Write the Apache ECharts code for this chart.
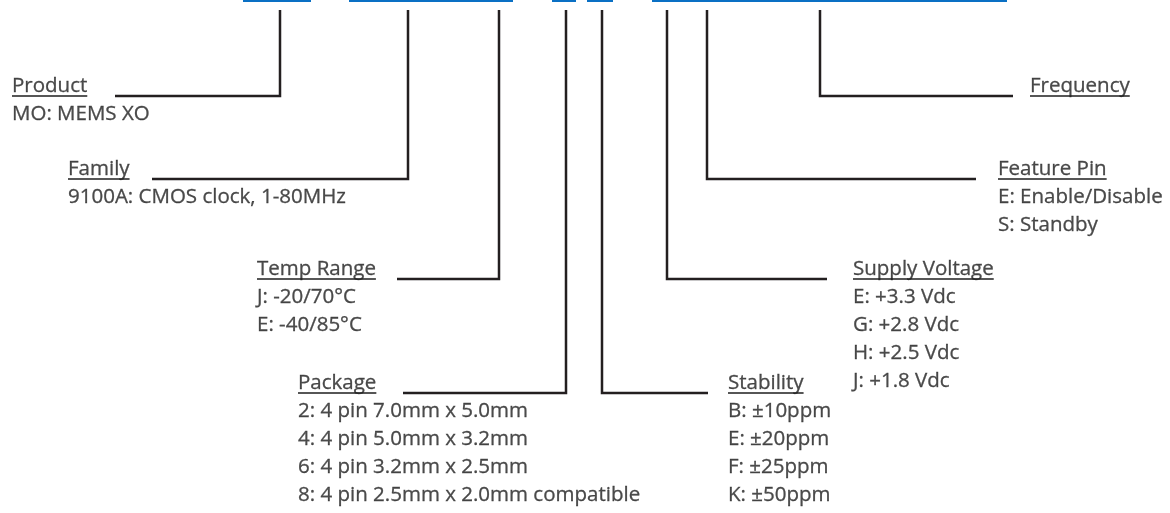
<!DOCTYPE html>
<html>
<head>
<meta charset="utf-8">
<script src="https://cdn.jsdelivr.net/npm/echarts@6/dist/echarts.min.js"></script>
<style>
html,body{margin:0;padding:0;background:#fff;}
#chart{width:1170px;height:513px;}
</style>
</head>
<body>
<div id="chart"></div>
<script>
// ---- content ----
const fieldNames = ['Product', 'Family', 'Temp Range', 'Package', 'Stability', 'Supply Voltage', 'Feature Pin', 'Frequency'];
const productOptions = ['MO: MEMS XO'];
const familyOptions = ['9100A: CMOS clock, 1-80MHz'];
const tempOptions = ['J: -20/70°C', 'E: -40/85°C'];
const packageOptions = ['2: 4 pin 7.0mm x 5.0mm', '4: 4 pin 5.0mm x 3.2mm', '6: 4 pin 3.2mm x 2.5mm', '8: 4 pin 2.5mm x 2.0mm compatible'];
const stabilityOptions = ['B: ±10ppm', 'E: ±20ppm', 'F: ±25ppm', 'K: ±50ppm'];
const supplyOptions = ['E: +3.3 Vdc', 'G: +2.8 Vdc', 'H: +2.5 Vdc', 'J: +1.8 Vdc'];
const featureOptions = ['E: Enable/Disable', 'S: Standby'];
const frequencyOptions = [];
const fieldOptions = [productOptions, familyOptions, tempOptions, packageOptions, stabilityOptions, supplyOptions, featureOptions, frequencyOptions];

// ---- layout (pixel space of the hidden axes) ----
const codeBarStart = [243, 349, 552, 587, 652];
const codeBarEnd = [311, 513, 576, 613, 1007];
const textX = [12, 68, 257, 298, 728, 853, 998, 1030];
const baseY = [93, 176, 276, 390, 390, 276, 176, 93];
const leaderX = [280, 408, 499, 566, 602, 667, 707, 820];
const leaderEndX = [115, 152, 397, 403, 708, 827, 976, 1013];
const leaderTop = 10;
const lineOffset = 3;
const rowStep = 28;

const FONT_FAMILY = 'Open Sans';
const FONT_SIZE = 20.5;
const TEXT_COLOR = '#1e1e1e';
const LINE_COLOR = '#231f20';
const BLUE = '#0a70c4';

const ctx = document.createElement('canvas').getContext('2d');
ctx.font = FONT_SIZE + 'px "' + FONT_FAMILY + '"';

const series = [];
// blue code bars
codeBarStart.forEach((s, i) => {
  series.push({
    type: 'line', silent: true, symbol: 'none', clip: false,
    lineStyle: { color: BLUE, width: 4 },
    data: [[s, 0], [codeBarEnd[i], 0]]
  });
});
// leader lines
fieldNames.forEach((n, i) => {
  const ly = baseY[i] + lineOffset;
  series.push({
    type: 'line', silent: true, symbol: 'none',
    lineStyle: { color: LINE_COLOR, width: 2.5, join: 'miter', cap: 'butt' },
    data: [[leaderX[i], leaderTop], [leaderX[i], ly], [leaderEndX[i], ly]]
  });
  // underline of heading
  const w = ctx.measureText(n).width;
  series.push({
    type: 'line', silent: true, symbol: 'none',
    lineStyle: { color: TEXT_COLOR, width: 1.4 },
    data: [[textX[i], baseY[i] + 3], [textX[i] + w, baseY[i] + 3]]
  });
});
// texts
const textData = [];
fieldNames.forEach((n, i) => {
  textData.push({ value: [textX[i], baseY[i] - 7], label: { formatter: n } });
  fieldOptions[i].forEach((o, j) => {
    textData.push({ value: [textX[i], baseY[i] + rowStep * (j + 1) - 7], label: { formatter: o } });
  });
});
series.push({
  type: 'scatter', silent: true, symbolSize: 0,
  label: {
    show: true, position: 'right', distance: 0, color: TEXT_COLOR,
    fontFamily: FONT_FAMILY, fontSize: FONT_SIZE,
    textBorderColor: TEXT_COLOR, textBorderWidth: 0.3,
    align: 'left', verticalAlign: 'middle'
  },
  data: textData
});

const chart = echarts.init(document.getElementById('chart'), null, { renderer: 'canvas' });
chart.setOption({
  animation: false,
  backgroundColor: '#ffffff',
  grid: { left: 0, right: 0, top: 0, bottom: 0 },
  xAxis: { type: 'value', min: 0, max: 1170, show: false },
  yAxis: { type: 'value', min: 0, max: 513, inverse: true, show: false },
  series: series
});
</script>
</body>
</html>
